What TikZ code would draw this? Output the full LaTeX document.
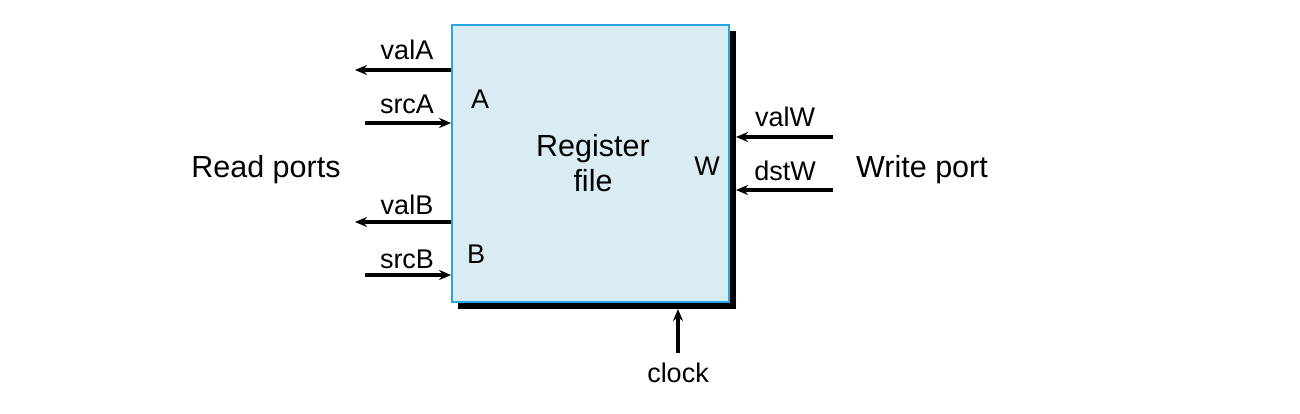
\documentclass[tikz,border=0pt]{standalone}
\usepackage{fontspec}
\setmainfont{Liberation Sans}
\usetikzlibrary{arrows.meta}
\definecolor{boxfill}{HTML}{D9EBF3}
\definecolor{boxline}{HTML}{2AA7DE}
\begin{document}
\begin{tikzpicture}[x=1pt,y=-1pt,
  lbl/.style={font=\fontsize{27}{30}\selectfont, inner sep=0pt, anchor=base},
  big/.style={font=\fontsize{30.5}{34}\selectfont, inner sep=0pt, anchor=base, align=center},
  arr/.style={line width=3.2pt, -{Stealth[length=12pt,width=10pt]}}]
\useasboundingbox (0,0) rectangle (1300,414);
% shadow
\fill[black] (458,31) rectangle (735.5,308.5);
\node[draw=boxline, line width=1.8pt, fill=boxfill, minimum width=277pt, minimum height=277pt, inner sep=0pt] (rf) at (590.5,163.5) {};
\node[big] (rft) at (593,157) {Register};
\node[big] (rft2) at (593,191) {file};
\node[lbl] (A) at (480,109) {A};
\node[lbl] (B) at (476,263) {B};
\node[lbl] (W) at (707,176) {W};
\node[big] (rp) at (266,178) {Read ports};
\node[big] (wp) at (922,178) {Write port};
% left arrows
\coordinate (vA) at (355,70);
\coordinate (sA) at (365,123);
\coordinate (vB) at (355,222);
\coordinate (sB) at (365,275);
\draw[arr] (rf.west |- vA) -- (vA);
\draw[arr] (sA) -- (rf.west |- sA);
\draw[arr] (rf.west |- vB) -- (vB);
\draw[arr] (sB) -- (rf.west |- sB);
\node[lbl] (lvA) at (407,60) {valA};
\node[lbl] (lsA) at (407,114) {srcA};
\node[lbl] (lvB) at (407,214) {valB};
\node[lbl] (lsB) at (407,268) {srcB};
% right arrows
\coordinate (vW) at (833,137);
\coordinate (dW) at (833,190);
\coordinate (rE) at (736,0);
\draw[arr] (vW) -- (rE |- vW);
\draw[arr] (dW) -- (rE |- dW);
\node[lbl] (lvW) at (785,127) {valW};
\node[lbl] (ldW) at (785,181) {dstW};
% clock
\node[lbl] (clk) at (678,382) {clock};
\coordinate (cT) at (678,309);
\draw[arr] (clk.north |- 0,353) -- (cT);
\end{tikzpicture}
\end{document}
